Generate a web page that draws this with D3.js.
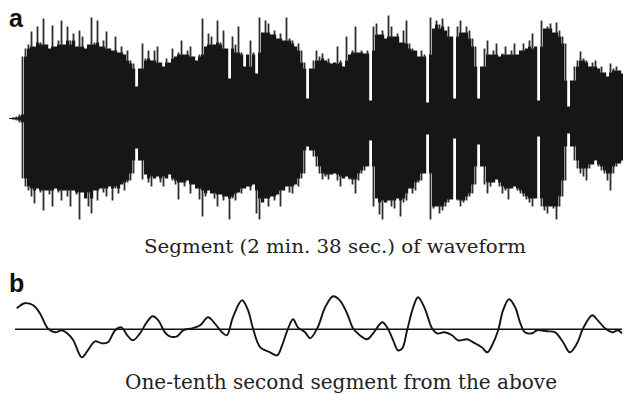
<!DOCTYPE html>
<html>
<head>
<meta charset="utf-8">
<script src="https://cdn.jsdelivr.net/npm/d3@7"></script>
<style>
  html, body { margin: 0; padding: 0; background: #fff; }
  svg { display: block; }
</style>
</head>
<body>
<div id="chart"></div>
<script>
// panel a: extent of the waveform in each time column (top / bottom, arbitrary units)
const waveTop = [
  0.5, 1, 2, 4,
  62, 70, 74, 87, 72, 92, 76, 100, 74, 70, 93, 72, 78, 98, 74, 92, 78, 85, 72, 88, 82, 70, 74, 101, 76, 98,
  72, 78, 87, 70, 68, 82, 66, 72, 64, 68, 58, 55,
  32,
  50, 75, 60, 68, 58, 68, 72, 56, 52, 60, 56, 70, 62, 66, 78, 64, 68, 72, 62, 58, 64,
  100,
  72, 85, 82, 74, 98, 76, 88, 70, 40, 82, 74, 92, 66, 52, 64, 78, 66, 45, 101, 86, 98, 95, 84, 88, 80, 85,
  78, 101, 80, 78, 72, 75, 68, 56,
  20,
  50, 58, 68, 62, 65, 58, 60, 55, 56, 72, 58, 52, 82, 64, 68, 92, 66, 68, 65, 68,
  18,
  92, 95, 84, 88, 80, 103, 92, 82, 85, 76, 88, 98, 75, 70, 68, 62, 68, 64,
  16,
  101, 90, 98, 94, 100, 88, 92, 82,
  20,
  92, 98, 86, 92, 88, 80, 72,
  20,
  52, 70, 78, 64, 68, 75, 62, 65, 72, 64, 68, 75, 64, 68, 75, 70, 78, 85, 72,
  18,
  98, 90, 92, 95, 86, 96, 88, 82, 75,
  12,
  38, 52, 58, 67, 60, 58, 52, 56, 58, 50, 52, 46, 42, 55, 50, 52, 48, 45
];
const waveBottom = [
  -0.5, -1, -2, -4,
  -60, -68, -72, -78, -85, -70, -74, -92, -72, -76, -88, -70, -74, -82, -72, -78, -88, -72, -76, -101, -74, -80,
  -88, -95, -72, -82, -70, -74, -78, -68, -82, -70, -75, -66, -72, -64, -62, -55,
  -30,
  -42, -61, -56, -64, -68, -60, -58, -64, -68, -60, -56, -62, -66, -81, -64, -68, -62, -75, -66, -70, -81,
  -98,
  -78, -72, -75, -80, -88, -76, -82, -78, -101, -80, -82, -74, -75, -70, -68, -72, -66, -95, -101, -84, -80,
  -88, -78, -82, -76, -88, -72, -68, -74, -75, -66, -68, -60, -55,
  -28,
  -32, -38, -48, -55, -61, -58, -61, -56, -55, -62, -68, -60, -58, -61, -66, -75, -62, -55, -52, -48,
  -22,
  -88, -80, -96, -101, -84, -82, -88, -90, -80, -98, -84, -82, -70, -75, -72, -64, -62, -55,
  -16,
  -101, -90, -88, -95, -92, -88, -84, -81,
  -20,
  -82, -88, -84, -82, -78, -75, -66,
  -26,
  -48, -66, -75, -68, -64, -61, -68, -75, -72, -81, -70, -68, -72, -75, -78, -81, -84, -88, -80,
  -18,
  -88, -92, -95, -88, -90, -101, -88, -78, -62,
  -15,
  -28, -42, -50, -55, -58, -62, -50, -46, -42, -48, -52, -55, -62, -72, -55, -48, -45, -42
];

// panel b: one-tenth second of the signal (time in ms, amplitude)
const segTime = [
  0.3, 1.6, 3.0, 4.1, 5.4, 6.6, 7.7, 8.6, 9.6, 11.0, 12.0, 13.2, 14.3, 15.3, 16.5, 17.5, 18.5, 19.4,
  20.6, 21.7, 22.7, 23.6, 24.7, 25.5, 26.7, 27.7, 29.2, 30.5, 31.8, 32.9, 34.1, 34.9, 35.9, 37.4, 38.4,
  39.2, 40.4, 42.0, 43.2, 44.0, 45.0, 45.8, 46.6, 47.8, 48.6, 49.8, 51.1, 52.4, 53.5, 54.7, 55.7, 56.8,
  58.0, 59.0, 60.5, 61.3, 62.3, 63.1, 63.8, 64.6, 65.6, 66.4, 67.5, 68.7, 69.5, 70.8, 72.0, 73.0, 74.5,
  75.5, 76.9, 77.8, 78.6, 79.6, 80.4, 81.4, 82.4, 83.2, 84.0, 85.2, 86.0, 87.6, 89.0, 90.3, 91.4, 92.6,
  93.6, 95.1, 96.0, 97.2, 98.4, 99.3, 100
];
const segAmp = [
  21, 26, 24, 16, 1, -3, -1, -4, -11, -28, -21, -12, -14, -13, -1, 2, -6, -11,
  -4, 7, 13, 9, -3, -7, -7, -1, 1, 4, 12, 6, -3, -6, 12, 29, 19,
  1, -18, -23, -26, -16, 1, 10, 2, -3, -9, 1, 22, 33, 29, 16, 1, -6,
  -10, -4, 7, 2, -11, -21, -19, -1, 22, 32, 21, 1, -4, -3, -6, -11, -10,
  -13, -18, -23, -16, -1, 19, 30, 22, 7, -3, -4, -1, -2, -3, -13, -23, -14,
  1, 14, 9, 1, -3, -1, -4
];

const panelLabels = ['a', 'b'];
const captions = ['Segment (2 min. 38 sec.) of waveform', 'One-tenth second segment from the above'];

const width = 623, height = 395;

const svg = d3.select('#chart').append('svg')
  .attr('width', width)
  .attr('height', height)
  .style('background-color', '#fff');

// ---- panel a
const xA = d3.scaleLinear().domain([0, waveTop.length]).range([9, 624]);
const yA = d3.scaleLinear().domain([-104, 104]).range([222.5, 14.5]);
const colW = xA(1) - xA(0);
const n = waveTop.length;

// solid body = second lowest level around a column, so peaks stick out as thin strokes
function bodyLevel(arr, i, sign) {
  const w = [];
  for (let k = i - 2; k <= i + 2; k++) {
    if (k >= 0 && k < n) w.push(sign * arr[k]);
  }
  w.sort((a, b) => a - b);
  const lvl = w.length > 1 ? w[1] : w[0];
  return sign * Math.min(sign * arr[i], lvl);
}

const cols = waveTop.map((t, i) => ({
  i,
  top: t,
  bottom: waveBottom[i],
  coreTop: bodyLevel(waveTop, i, 1),
  coreBottom: bodyLevel(waveBottom, i, -1)
}));

const gA = svg.append('g').attr('class', 'wave');

// dense body of the waveform
gA.selectAll('rect')
  .data(cols)
  .enter().append('rect')
  .attr('x', d => xA(d.i))
  .attr('width', colW + 0.2)
  .attr('y', d => yA(d.coreTop))
  .attr('height', d => yA(d.coreBottom) - yA(d.coreTop))
  .attr('fill', '#161616');

// thin peaks
gA.selectAll('line.up')
  .data(cols.filter(d => d.top > d.coreTop))
  .enter().append('line')
  .attr('class', 'up')
  .attr('x1', d => xA(d.i + 0.5))
  .attr('x2', d => xA(d.i + 0.5))
  .attr('y1', d => yA(d.coreTop) + 1)
  .attr('y2', d => yA(d.top))
  .attr('stroke', '#2e2e2e')
  .attr('stroke-width', 1.8);

gA.selectAll('line.down')
  .data(cols.filter(d => d.bottom < d.coreBottom))
  .enter().append('line')
  .attr('class', 'down')
  .attr('x1', d => xA(d.i + 0.5))
  .attr('x2', d => xA(d.i + 0.5))
  .attr('y1', d => yA(d.coreBottom) - 1)
  .attr('y2', d => yA(d.bottom))
  .attr('stroke', '#2e2e2e')
  .attr('stroke-width', 1.8);

// ---- panel b
const xB = d3.scaleLinear().domain([0, 100]).range([15, 622]);
const yB = d3.scaleLinear().domain([-40, 40]).range([369.3, 289.3]);

svg.append('line')
  .attr('x1', xB(0)).attr('x2', xB(100))
  .attr('y1', yB(0)).attr('y2', yB(0))
  .attr('stroke', '#111')
  .attr('stroke-width', 1.4);

const seg = segTime.map((t, i) => ({ t, a: segAmp[i] }));
const line = d3.line()
  .x(d => xB(d.t))
  .y(d => yB(d.a))
  .curve(d3.curveCatmullRom.alpha(0.5));

svg.append('path')
  .datum(seg)
  .attr('d', line)
  .attr('fill', 'none')
  .attr('stroke', '#151515')
  .attr('stroke-width', 1.9);

// ---- labels and captions
svg.selectAll('text.panel')
  .data(panelLabels)
  .enter().append('text')
  .attr('class', 'panel')
  .attr('x', 9)
  .attr('y', (d, i) => i === 0 ? 27 : 292)
  .attr('font-family', '"Liberation Sans", Arial, sans-serif')
  .attr('font-weight', 'bold')
  .attr('font-size', 25)
  .attr('fill', '#111')
  .text(d => d);

svg.selectAll('text.caption')
  .data(captions)
  .enter().append('text')
  .attr('class', 'caption')
  .attr('x', (d, i) => i === 0 ? 144 : 125)
  .attr('y', (d, i) => i === 0 ? 253 : 389)
  .attr('textLength', (d, i) => i === 0 ? 382 : 432)
  .attr('lengthAdjust', 'spacingAndGlyphs')
  .attr('font-family', '"DejaVu Serif", "Liberation Serif", serif')
  .attr('font-size', (d, i) => i === 0 ? 19 : 20)
  .attr('fill', '#222')
  .text(d => d);
</script>
</body>
</html>
